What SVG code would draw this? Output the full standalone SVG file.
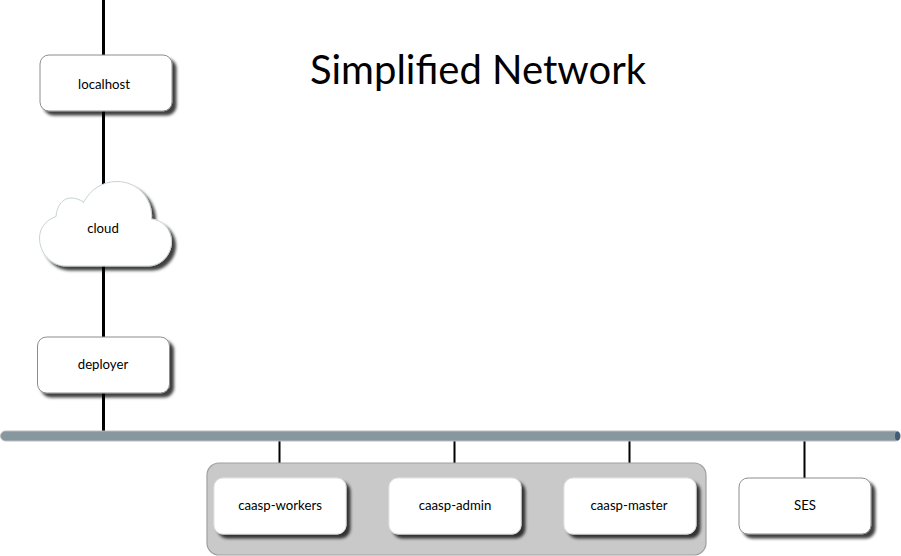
<svg xmlns="http://www.w3.org/2000/svg" width="901" height="556" viewBox="0 0 901 556">
<style>
text{font-family:Lato,"Liberation Sans",sans-serif;fill:#000;text-anchor:middle}
.l{font-size:13.2px}
.box{fill:#fff;stroke:#8c8c8c;stroke-width:1}
.w{fill:#fff;stroke:#e4e4e4;stroke-width:1}
.c{fill:none;stroke:#000}
</style>
<defs>
<filter id="s" x="-10%" y="-10%" width="125%" height="130%">
<feGaussianBlur in="SourceAlpha" stdDeviation="1.5" result="b"/>
<feOffset in="b" dx="3.500" dy="3.500" result="o"/>
<feFlood flood-color="#000" flood-opacity=".75"/>
<feComposite in2="o" operator="in" result="sh"/>
<feMerge><feMergeNode in="sh"/><feMergeNode in="SourceGraphic"/></feMerge>
</filter>
</defs>
<rect width="901" height="556" fill="#fff"/>
<g id="connectors">
<path class="c" stroke-width="3" d="M103.500 0V56M103.500 110V185M103.500 265V338M103.500 392V432"/>
<path class="c" stroke-width="2" d="M279.500 440V479M454.500 440V479M629.500 440V479M804.500 440V479"/>
</g>
<g id="network-bus">
<rect x="0.500" y="431" width="900" height="10" rx="5" fill="#87979f" stroke="#bcbcbc" stroke-width="1"/>
<ellipse cx="897.500" cy="436" rx="2.500" ry="4.500" fill="#3f5d76"/>
</g>
<g id="title"><text x="478" y="84" font-size="40">Simplified Network</text></g>
<g id="localhost"><rect class="box" filter="url(#s)" x="40" y="55" width="132" height="56" rx="9"/><text class="l" x="104" y="88.500">localhost</text></g>
<g id="cloud"><path filter="url(#s)" fill="#fff" stroke="#c8d2d6" d="M56 216.500C57 205 63 198 71 198C76 198 80 199.500 83.500 202.500C90 190 102 181.500 117 181.500C137 181.500 153 198 151.500 219C163 220 171.500 230 171.500 241.500C171.500 255 161 266 148 266H66C51 266 39.500 253 39.500 238C39.500 228 46 220 56 216.500Z"/><text class="l" x="103" y="233">cloud</text></g>
<g id="deployer"><rect class="box" filter="url(#s)" x="37.500" y="337" width="132" height="56" rx="9"/><text class="l" x="103" y="369">deployer</text></g>
<g id="caasp-group"><rect x="207" y="463" width="499" height="92" rx="12" fill="#c9c9c9" stroke="#a0a0a0" stroke-width="1.200"/></g>
<g id="caasp-workers"><rect class="w" filter="url(#s)" x="214" y="478" width="132" height="56" rx="9"/><text class="l" x="280" y="510">caasp-workers</text></g>
<g id="caasp-admin"><rect class="w" filter="url(#s)" x="389" y="478" width="132" height="56" rx="9"/><text class="l" x="455" y="510">caasp-admin</text></g>
<g id="caasp-master"><rect class="w" filter="url(#s)" x="564" y="478" width="132" height="56" rx="9"/><text class="l" x="629" y="510">caasp-master</text></g>
<g id="SES"><rect class="box" filter="url(#s)" x="739" y="478" width="132" height="56" rx="9"/><text class="l" x="805" y="510">SES</text></g>
</svg>
